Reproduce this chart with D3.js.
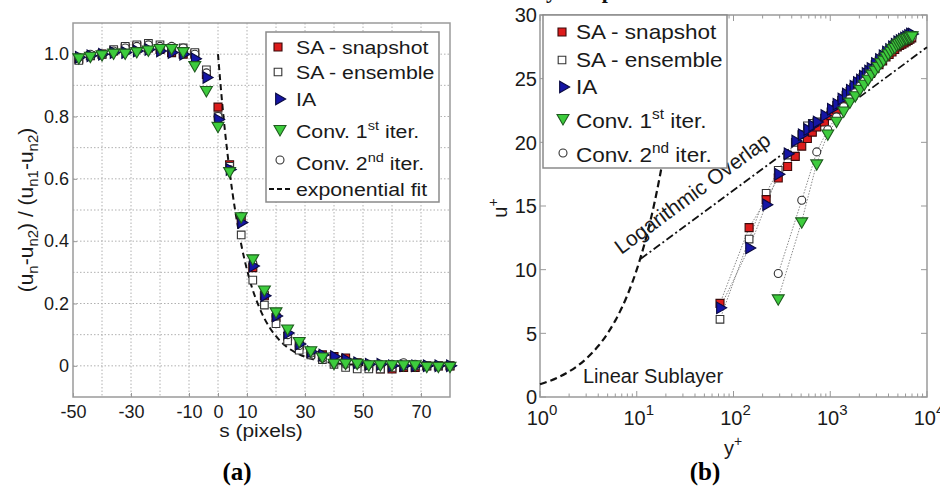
<!DOCTYPE html>
<html><head><meta charset="utf-8">
<script src="https://cdn.jsdelivr.net/npm/d3@7"></script>
<style>
html,body{margin:0;padding:0;background:#fff;}
svg{display:block;font-family:"Liberation Sans",Arial,sans-serif;}
</style>
</head><body>
<svg id="c" width="940" height="493"></svg>
<script>
// ---------------- Panel (a) data ----------------
const sPixels = [-48,-44,-40,-36,-32,-28,-24,-20,-16,-12,-8,-4,0,4,8,12,16,20,24,28,32,36,40,44,48,52,56,60,64,68,72,76,80];
const aSnapshot = [0.985,0.995,1.0,1.01,1.02,1.025,1.02,1.015,1.005,1.0,1.0,0.935,0.83,0.645,0.47,0.315,0.225,0.155,0.095,0.065,0.04,0.035,0.03,0.025,0.01,0.0,-0.01,-0.01,-0.005,-0.005,0.0,0.0,0.0];
const aEnsemble = [0.98,0.995,1.0,1.015,1.025,1.03,1.035,1.03,1.02,1.02,1.005,0.95,0.80,0.64,0.42,0.275,0.195,0.135,0.08,0.05,0.035,0.02,0.005,-0.005,-0.01,-0.01,-0.01,-0.005,0.0,0.0,0.0,0.0,0.0];
const aIA = [0.99,0.995,1.0,1.005,1.005,1.01,1.015,1.01,1.005,1.0,0.985,0.925,0.79,0.63,0.46,0.32,0.225,0.16,0.105,0.07,0.045,0.035,0.03,0.02,0.01,0.005,0.005,0.0,0.0,0.0,0.0,0.0,0.0];
const aConv1 = [0.99,0.995,1.0,1.005,1.005,1.01,1.015,1.02,1.02,1.01,0.965,0.885,0.77,0.625,0.48,0.345,0.245,0.175,0.12,0.08,0.05,0.03,0.01,0.01,0.01,0.005,0.005,0.005,0.005,0.005,0.0,0.0,0.0];
const aConv2 = [0.99,1.0,1.0,1.01,1.02,1.025,1.03,1.025,1.025,1.02,1.0,0.94,0.80,0.63,0.48,0.33,0.23,0.16,0.10,0.065,0.04,0.025,0.01,0.005,0.005,0.005,0.005,0.005,0.01,0.005,0.0,0.0,0.0];
const fitS = [0,1,2,3,4,5,6,8,10,12,14,16,18,20,24,28,32,36,40,45,50,55,60,65,70,75,80];
const fitV = [1.0,0.889,0.790,0.703,0.625,0.555,0.494,0.390,0.308,0.243,0.193,0.152,0.120,0.095,0.059,0.037,0.023,0.014,0.009,0.005,0.003,0.002,0.001,0.0,0.0,0.0,0.0];
const aXTicks = [-50,-30,-10,0,10,30,50,70];
const aXTickLabels = ['-50','-30','-10','0','10','30','50','70'];
const aYTicks = [0,0.2,0.4,0.6,0.8,1.0];
const aYTickLabels = ['0','0.2','0.4','0.6','0.8','1.0'];

// ---------------- Panel (b) data ----------------
const yPlusSA = [72.5,145,217.5,290,362.5,435,507.5,580,652.5,725,870,1015,1160,1305,1450,1595,1740,1885,2030,2175,2320,2465,2610,2900,3190,3480,3770,4060,4350,4640,4930,5220,5510,5800,6090,6380,6670,6960];
const bSnapshot = [7.35,13.3,15.5,17.2,18.1,18.9,19.7,20.3,20.8,21.2,21.6,22.1,22.6,23.0,23.4,23.7,24.0,24.3,24.5,24.8,25.0,25.2,25.4,25.8,26.1,26.4,26.7,26.9,27.1,27.3,27.5,27.6,27.7,27.8,27.9,28.0,28.1,28.2];
const bEnsemble = [6.1,12.4,16.0,17.8,19.0,20.0,20.6,21.3,21.5,21.6,21.9,22.4,22.9,23.3,23.7,24.0,24.3,24.6,24.8,25.1,25.3,25.5,25.7,26.1,26.4,26.7,27.0,27.2,27.4,27.6,27.7,27.9,28.0,28.1,28.2,28.3,28.3,28.4];
const bIA = [7.0,11.7,15.1,17.5,19.1,20.1,20.6,21.0,21.3,21.6,22.1,22.6,23.0,23.4,23.8,24.1,24.4,24.7,24.9,25.2,25.4,25.6,25.8,26.2,26.5,26.8,27.1,27.3,27.5,27.7,27.9,28.0,28.1,28.2,28.3,28.4,28.5,28.5];
const yPlusConv = [290,507.5,725,942.5,1160,1377.5,1595,1812.5,2030,2247.5,2465,2682.5,2900,3117.5,3335,3552.5,3770,3987.5,4205,4422.5,4640,4857.5,5075,5292.5,5510,5727.5,5945,6162.5,6380,6597.5,6815,7032.5];
const bConv1 = [7.75,13.8,18.35,20.7,21.7,22.5,23.2,23.7,24.2,24.6,25.0,25.4,25.7,26.0,26.3,26.5,26.8,27.0,27.2,27.4,27.5,27.7,27.8,27.9,28.0,28.1,28.2,28.2,28.3,28.3,28.4,28.4];
const bConv2 = [9.7,15.45,19.25,21.0,22.0,22.8,23.4,23.9,24.4,24.8,25.2,25.5,25.8,26.1,26.4,26.6,26.8,27.0,27.2,27.4,27.5,27.6,27.7,27.8,27.9,28.0,28.1,28.2,28.2,28.3,28.3,28.3];
const linYp = [1,1.5,2,3,4,5,6,8,10,12,15,20,25,30];
const linU  = [1,1.5,2,3,4,5,6,8,10,12,15,20,25,30];
const logYp = [11,10000];
const logU  = [10.85,27.47];
const bXTicks = [0,1,2,3,4];
const bYTicks = [0,5,10,15,20,25,30];

// ---------------- styles ----------------
const ST = {
  snap:{sym:d3.symbolSquare, size:64, rot:0, fill:'#dd1c1c', stroke:'#3a0a0a'},
  ens: {sym:d3.symbolSquare, size:58, rot:0, fill:'#ffffff', stroke:'#333'},
  ia:  {sym:d3.symbolTriangle, size:58, rot:90, fill:'#1515a5', stroke:'#0a0a40'},
  c1:  {sym:d3.symbolTriangle, size:62, rot:180, fill:'#3dcc3d', stroke:'#1f5a1f'},
  c2:  {sym:d3.symbolCircle, size:50, rot:0, fill:'#ffffff', stroke:'#333'}
};
const svg = d3.select('#c');
svg.append('rect').attr('width',940).attr('height',493).attr('fill','#fff');

function drawMarkers(g, xs, ys, xS, yS, st){
  const p = d3.symbol().type(st.sym).size(st.size)();
  g.append('g').selectAll('path').data(xs.map((x,i)=>[x,ys[i]])).join('path')
    .attr('d',p)
    .attr('transform',d=>`translate(${xS(d[0])},${yS(d[1])}) rotate(${st.rot})`)
    .attr('fill',st.fill).attr('stroke',st.stroke).attr('stroke-width',1.1);
}
function legendMarker(g, x, y, st){
  g.append('path').attr('d',d3.symbol().type(st.sym).size(st.size)())
    .attr('transform',`translate(${x},${y}) rotate(${st.rot})`)
    .attr('fill',st.fill).attr('stroke',st.stroke).attr('stroke-width',1.1);
}
// text with sub/superscripts; parts: strings or {t,dy,fs}; sx = horizontal stretch
function supText(g, x, y, parts, size, anchor, sx){
  const holder = g.append('g').attr('transform',`translate(${x},${y}) scale(${sx||1},1)`);
  const t = holder.append('text').attr('x',0).attr('y',0).attr('font-size',size)
    .attr('text-anchor',anchor||'start').attr('fill','#1a1a1a');
  let pending = 0;
  parts.forEach(p=>{
    if(typeof p==='string'){
      const ts = t.append('tspan').attr('font-size',size).text(p);
      if(pending){ ts.attr('dy',pending); pending = 0; }
    } else {
      t.append('tspan').attr('dy',p.dy + pending).attr('font-size',p.fs).text(p.t);
      pending = -p.dy;
    }
  });
  return t;
}

// ================= Panel (a) =================
const xL = d3.scaleLinear([-50,80],[73,450]);
const yL = d3.scaleLinear([-0.1,1.1],[397,23]);
const gA = svg.append('g');
// grid
gA.append('g').selectAll('line').data(d3.range(-40,80,10)).join('line')
  .attr('x1',d=>xL(d)).attr('x2',d=>xL(d)).attr('y1',yL(1.1)).attr('y2',yL(-0.1))
  .attr('stroke','#b0b0b0').attr('stroke-dasharray','1.5,2');
gA.append('g').selectAll('line').data(d3.range(0,11).map(i=>i/10)).join('line')
  .attr('x1',xL(-50)).attr('x2',xL(80)).attr('y1',d=>yL(d)).attr('y2',d=>yL(d))
  .attr('stroke','#b0b0b0').attr('stroke-dasharray','1.5,2');
// axes
const axLY = gA.append('g').attr('transform',`translate(${xL(-50)},0)`)
  .call(d3.axisLeft(yL).tickValues(aYTicks).tickSizeInner(-4).tickSizeOuter(0).tickPadding(4)
    .tickFormat((d,i)=>aYTickLabels[i]));
const axLX = gA.append('g').attr('transform',`translate(0,${yL(-0.1)})`)
  .call(d3.axisBottom(xL).tickValues(aXTicks).tickSizeInner(-4).tickSizeOuter(0).tickPadding(8)
    .tickFormat((d,i)=>aXTickLabels[i]));
[axLY,axLX].forEach(a=>{
  a.attr('font-size',18).attr('font-family','"Liberation Sans",Arial,sans-serif');
  a.select('.domain').remove();
  a.selectAll('line').attr('stroke','#999');
  a.selectAll('text').attr('font-size',18).attr('fill','#1a1a1a');
});
gA.append('rect').attr('x',xL(-50)).attr('y',yL(1.1)).attr('width',xL(80)-xL(-50)).attr('height',yL(-0.1)-yL(1.1))
  .attr('fill','none').attr('stroke','#9a9a9a').attr('stroke-width',1.5);
// fit
gA.append('path').datum(fitS.map((s,i)=>[s,fitV[i]]))
  .attr('d',d3.line().x(d=>xL(d[0])).y(d=>yL(d[1])).curve(d3.curveMonotoneX))
  .attr('fill','none').attr('stroke','#111').attr('stroke-width',2).attr('stroke-dasharray','6,4');
// markers
drawMarkers(gA,sPixels,aSnapshot,xL,yL,ST.snap);
drawMarkers(gA,sPixels,aEnsemble,xL,yL,ST.ens);
drawMarkers(gA,sPixels,aConv2,xL,yL,ST.c2);
drawMarkers(gA,sPixels,aIA,xL,yL,ST.ia);
drawMarkers(gA,sPixels,aConv1,xL,yL,ST.c1);
// legend
const lgA = gA.append('g');
lgA.append('rect').attr('x',266).attr('y',32).attr('width',173).attr('height',170)
  .attr('fill','#fff').attr('stroke','#8a8a8a').attr('stroke-width',1.5);
legendMarker(lgA,278,47,ST.snap);
legendMarker(lgA,278,72,ST.ens);
legendMarker(lgA,279,99,ST.ia);
legendMarker(lgA,280,129,ST.c1);
legendMarker(lgA,280,160,ST.c2);
lgA.append('line').attr('x1',269).attr('x2',292).attr('y1',189).attr('y2',189)
  .attr('stroke','#111').attr('stroke-width',2).attr('stroke-dasharray','5,3');
supText(lgA,296,54,['SA - snapshot'],19,'start',1.12);
supText(lgA,296,79,['SA - ensemble'],19,'start',1.12);
supText(lgA,296,106,['IA'],19,'start',1.12);
supText(lgA,296,138,['Conv. 1',{t:'st',dy:-8,fs:13},' iter.'],19,'start',1.12);
supText(lgA,296,170,['Conv. 2',{t:'nd',dy:-8,fs:13},' iter.'],19,'start',1.12);
supText(lgA,296,196,['exponential fit'],19,'start',1.12);
// labels
supText(gA,261,437,['s (pixels)'],19,'middle',1.1);
const ylab = gA.append('g').attr('transform','translate(33,210) rotate(-90)');
supText(ylab,0,0,['(u',{t:'n',dy:5,fs:15},'-u',{t:'n2',dy:5,fs:15},') / (u',{t:'n1',dy:5,fs:15},'-u',{t:'n2',dy:5,fs:15},')'],21,'middle');
gA.append('text').attr('x',237).attr('y',480).attr('text-anchor','middle')
  .attr('font-family','"Liberation Serif","Times New Roman",serif').attr('font-weight','bold').attr('font-size',25).text('(a)');

// ================= Panel (b) =================
const xR = d3.scaleLog([1,1e4],[540,927]);
const yR = d3.scaleLinear([0,30],[397,15]);
const gB = svg.append('g');
// partial title at top edge (cut off as in the source)
gB.append('text').attr('x',485).attr('y',-2).attr('font-family','"Liberation Serif","Times New Roman",serif')
  .attr('font-weight','bold').attr('font-size',22).attr('fill','#111').text('velocity comparison');
// box + ticks
gB.append('rect').attr('x',xR(1)).attr('y',yR(30)).attr('width',xR(1e4)-xR(1)).attr('height',yR(0)-yR(30))
  .attr('fill','#fff').attr('stroke','#9a9a9a').attr('stroke-width',1.5);
const minor = [];
for(let e=0;e<4;e++) for(let m=2;m<=9;m++) minor.push(m*Math.pow(10,e));
const tickG = gB.append('g').attr('stroke','#999').attr('stroke-width',1);
bXTicks.forEach(e=>{
  const x = xR(Math.pow(10,e));
  tickG.append('line').attr('x1',x).attr('x2',x).attr('y1',yR(0)).attr('y2',yR(0)-6);
  tickG.append('line').attr('x1',x).attr('x2',x).attr('y1',yR(30)).attr('y2',yR(30)+6);
});
minor.forEach(v=>{
  const x = xR(v);
  tickG.append('line').attr('x1',x).attr('x2',x).attr('y1',yR(0)).attr('y2',yR(0)-3.5);
  tickG.append('line').attr('x1',x).attr('x2',x).attr('y1',yR(30)).attr('y2',yR(30)+3.5);
});
bYTicks.forEach(v=>{
  const y = yR(v);
  tickG.append('line').attr('x1',xR(1)).attr('x2',xR(1)+6).attr('y1',y).attr('y2',y);
  tickG.append('line').attr('x1',xR(1e4)).attr('x2',xR(1e4)-6).attr('y1',y).attr('y2',y);
});
// tick labels
bYTicks.forEach(v=>{
  gB.append('text').attr('x',xR(1)-3).attr('y',yR(v)).attr('dy','0.36em').attr('text-anchor','end')
    .attr('font-size',20).attr('fill','#1a1a1a').text(v);
});
bXTicks.forEach(e=>{
  supText(gB,xR(Math.pow(10,e))+2,425,['10',{t:String(e),dy:-10,fs:15}],20,'middle');
});
// theory curves
gB.append('path').datum(linYp.map((y,i)=>[y,linU[i]]))
  .attr('d',d3.line().x(d=>xR(d[0])).y(d=>yR(d[1])).curve(d3.curveMonotoneX))
  .attr('fill','none').attr('stroke','#111').attr('stroke-width',2.2).attr('stroke-dasharray','7,4');
gB.append('path').datum(logYp.map((y,i)=>[y,logU[i]]))
  .attr('d',d3.line().x(d=>xR(d[0])).y(d=>yR(d[1])))
  .attr('fill','none').attr('stroke','#111').attr('stroke-width',1.8).attr('stroke-dasharray','8,3,2,3');
// annotations
const ang = Math.atan2(yR(logU[1])-yR(logU[0]), xR(logYp[1])-xR(logYp[0]))*180/Math.PI;
gB.append('text').attr('transform',`translate(${xR(6.9)},${yR(11.15)}) rotate(${ang})`)
  .attr('font-size',21).attr('fill','#1a1a1a').text('Logarithmic Overlap');
gB.append('text').attr('x',xR(2.78)).attr('y',yR(1.12)).attr('font-size',20).attr('fill','#1a1a1a').text('Linear Sublayer');
// connecting dotted lines
const lineR = d3.line().x(d=>xR(d[0])).y(d=>yR(d[1]));
[[yPlusSA,bSnapshot],[yPlusSA,bEnsemble],[yPlusSA,bIA],[yPlusConv,bConv1],[yPlusConv,bConv2]].forEach(([xs,ys])=>{
  gB.append('path').datum(xs.map((x,i)=>[x,ys[i]])).attr('d',lineR)
    .attr('fill','none').attr('stroke','#8a8a8a').attr('stroke-width',1).attr('stroke-dasharray','1.5,1.5');
});
drawMarkers(gB,yPlusSA,bEnsemble,xR,yR,ST.ens);
drawMarkers(gB,yPlusSA,bSnapshot,xR,yR,ST.snap);
drawMarkers(gB,yPlusSA,bIA,xR,yR,ST.ia);
drawMarkers(gB,yPlusConv,bConv2,xR,yR,ST.c2);
drawMarkers(gB,yPlusConv,bConv1,xR,yR,ST.c1);
// legend
const lgB = gB.append('g');
lgB.append('rect').attr('x',543).attr('y',15).attr('width',184).attr('height',153)
  .attr('fill','#fff').attr('stroke','#8a8a8a').attr('stroke-width',1.5);
legendMarker(lgB,562,32,ST.snap);
legendMarker(lgB,562,60,ST.ens);
legendMarker(lgB,563,87,ST.ia);
legendMarker(lgB,563,118,ST.c1);
legendMarker(lgB,563,153,ST.c2);
supText(lgB,576,39,['SA - snapshot'],20.5,'start',1.1);
supText(lgB,576,67,['SA - ensemble'],20.5,'start',1.1);
supText(lgB,576,94,['IA'],20.5,'start',1.1);
supText(lgB,576,128,['Conv. 1',{t:'st',dy:-9,fs:14},' iter.'],20.5,'start',1.1);
supText(lgB,576,162,['Conv. 2',{t:'nd',dy:-9,fs:14},' iter.'],20.5,'start',1.1);
// axis labels
supText(gB,733,455,['y',{t:'+',dy:-9,fs:14}],20,'middle');
const ulab = gB.append('g').attr('transform','translate(507,208) rotate(-90)');
supText(ulab,0,0,['u',{t:'+',dy:-9,fs:14}],20,'middle');
gB.append('text').attr('x',705).attr('y',480).attr('text-anchor','middle')
  .attr('font-family','"Liberation Serif","Times New Roman",serif').attr('font-weight','bold').attr('font-size',25).text('(b)');
</script>
</body></html>
